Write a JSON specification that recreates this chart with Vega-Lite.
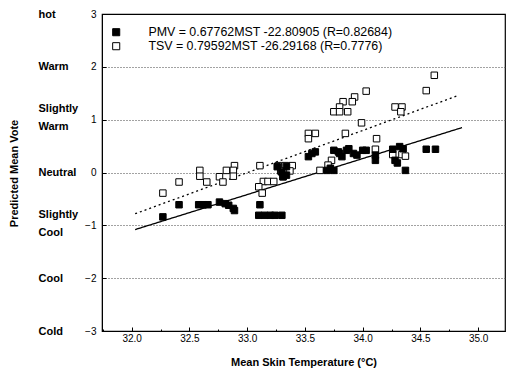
{
  "$schema": "https://vega.github.io/schema/vega-lite/v6.json",
  "autosize": {"type": "none"},
  "padding": {"left": 102, "top": 14, "right": 2, "bottom": 46},
  "width": 403,
  "height": 317,
  "background": "white",
  "config": {
    "font": "Liberation Sans",
    "view": {"stroke": "black", "strokeWidth": 1.2},
    "axis": {"domainColor": "black", "tickColor": "black", "labelColor": "black", "titleColor": "black"}
  },
  "datasets": {
    "pts": [
      {"mst": 34.62, "vote": 1.84, "series": "TSV = 0.79592MST -26.29168 (R=0.7776)"},
      {"mst": 34.55, "vote": 1.55, "series": "TSV = 0.79592MST -26.29168 (R=0.7776)"},
      {"mst": 34.03, "vote": 1.54, "series": "TSV = 0.79592MST -26.29168 (R=0.7776)"},
      {"mst": 33.93, "vote": 1.43, "series": "TSV = 0.79592MST -26.29168 (R=0.7776)"},
      {"mst": 33.91, "vote": 1.34, "series": "TSV = 0.79592MST -26.29168 (R=0.7776)"},
      {"mst": 33.83, "vote": 1.34, "series": "TSV = 0.79592MST -26.29168 (R=0.7776)"},
      {"mst": 33.80, "vote": 1.24, "series": "TSV = 0.79592MST -26.29168 (R=0.7776)"},
      {"mst": 33.75, "vote": 1.15, "series": "TSV = 0.79592MST -26.29168 (R=0.7776)"},
      {"mst": 33.80, "vote": 1.15, "series": "TSV = 0.79592MST -26.29168 (R=0.7776)"},
      {"mst": 33.87, "vote": 1.15, "series": "TSV = 0.79592MST -26.29168 (R=0.7776)"},
      {"mst": 34.28, "vote": 1.24, "series": "TSV = 0.79592MST -26.29168 (R=0.7776)"},
      {"mst": 34.34, "vote": 1.24, "series": "TSV = 0.79592MST -26.29168 (R=0.7776)"},
      {"mst": 34.33, "vote": 1.15, "series": "TSV = 0.79592MST -26.29168 (R=0.7776)"},
      {"mst": 33.99, "vote": 0.94, "series": "TSV = 0.79592MST -26.29168 (R=0.7776)"},
      {"mst": 33.85, "vote": 0.74, "series": "TSV = 0.79592MST -26.29168 (R=0.7776)"},
      {"mst": 34.12, "vote": 0.64, "series": "TSV = 0.79592MST -26.29168 (R=0.7776)"},
      {"mst": 33.53, "vote": 0.74, "series": "TSV = 0.79592MST -26.29168 (R=0.7776)"},
      {"mst": 33.59, "vote": 0.74, "series": "TSV = 0.79592MST -26.29168 (R=0.7776)"},
      {"mst": 33.53, "vote": 0.64, "series": "TSV = 0.79592MST -26.29168 (R=0.7776)"},
      {"mst": 34.11, "vote": 0.44, "series": "TSV = 0.79592MST -26.29168 (R=0.7776)"},
      {"mst": 34.26, "vote": 0.34, "series": "TSV = 0.79592MST -26.29168 (R=0.7776)"},
      {"mst": 34.34, "vote": 0.34, "series": "TSV = 0.79592MST -26.29168 (R=0.7776)"},
      {"mst": 34.37, "vote": 0.31, "series": "TSV = 0.79592MST -26.29168 (R=0.7776)"},
      {"mst": 33.73, "vote": 0.23, "series": "TSV = 0.79592MST -26.29168 (R=0.7776)"},
      {"mst": 33.70, "vote": 0.14, "series": "TSV = 0.79592MST -26.29168 (R=0.7776)"},
      {"mst": 33.63, "vote": 0.04, "series": "TSV = 0.79592MST -26.29168 (R=0.7776)"},
      {"mst": 33.11, "vote": 0.13, "series": "TSV = 0.79592MST -26.29168 (R=0.7776)"},
      {"mst": 33.27, "vote": 0.13, "series": "TSV = 0.79592MST -26.29168 (R=0.7776)"},
      {"mst": 33.33, "vote": 0.13, "series": "TSV = 0.79592MST -26.29168 (R=0.7776)"},
      {"mst": 33.39, "vote": 0.13, "series": "TSV = 0.79592MST -26.29168 (R=0.7776)"},
      {"mst": 33.29, "vote": 0.03, "series": "TSV = 0.79592MST -26.29168 (R=0.7776)"},
      {"mst": 33.37, "vote": 0.03, "series": "TSV = 0.79592MST -26.29168 (R=0.7776)"},
      {"mst": 33.31, "vote": -0.08, "series": "TSV = 0.79592MST -26.29168 (R=0.7776)"},
      {"mst": 32.89, "vote": 0.13, "series": "TSV = 0.79592MST -26.29168 (R=0.7776)"},
      {"mst": 32.82, "vote": 0.04, "series": "TSV = 0.79592MST -26.29168 (R=0.7776)"},
      {"mst": 32.88, "vote": 0.04, "series": "TSV = 0.79592MST -26.29168 (R=0.7776)"},
      {"mst": 32.88, "vote": -0.07, "series": "TSV = 0.79592MST -26.29168 (R=0.7776)"},
      {"mst": 32.76, "vote": -0.08, "series": "TSV = 0.79592MST -26.29168 (R=0.7776)"},
      {"mst": 32.79, "vote": -0.18, "series": "TSV = 0.79592MST -26.29168 (R=0.7776)"},
      {"mst": 32.59, "vote": 0.04, "series": "TSV = 0.79592MST -26.29168 (R=0.7776)"},
      {"mst": 32.59, "vote": -0.07, "series": "TSV = 0.79592MST -26.29168 (R=0.7776)"},
      {"mst": 32.65, "vote": -0.18, "series": "TSV = 0.79592MST -26.29168 (R=0.7776)"},
      {"mst": 32.41, "vote": -0.18, "series": "TSV = 0.79592MST -26.29168 (R=0.7776)"},
      {"mst": 32.27, "vote": -0.39, "series": "TSV = 0.79592MST -26.29168 (R=0.7776)"},
      {"mst": 33.14, "vote": -0.17, "series": "TSV = 0.79592MST -26.29168 (R=0.7776)"},
      {"mst": 33.18, "vote": -0.17, "series": "TSV = 0.79592MST -26.29168 (R=0.7776)"},
      {"mst": 33.23, "vote": -0.17, "series": "TSV = 0.79592MST -26.29168 (R=0.7776)"},
      {"mst": 33.10, "vote": -0.27, "series": "TSV = 0.79592MST -26.29168 (R=0.7776)"},
      {"mst": 33.13, "vote": -0.39, "series": "TSV = 0.79592MST -26.29168 (R=0.7776)"},
      {"mst": 34.55, "vote": 0.44, "series": "PMV = 0.67762MST -22.80905 (R=0.82684)"},
      {"mst": 34.63, "vote": 0.44, "series": "PMV = 0.67762MST -22.80905 (R=0.82684)"},
      {"mst": 34.37, "vote": 0.04, "series": "PMV = 0.67762MST -22.80905 (R=0.82684)"},
      {"mst": 34.26, "vote": 0.44, "series": "PMV = 0.67762MST -22.80905 (R=0.82684)"},
      {"mst": 34.32, "vote": 0.49, "series": "PMV = 0.67762MST -22.80905 (R=0.82684)"},
      {"mst": 34.35, "vote": 0.45, "series": "PMV = 0.67762MST -22.80905 (R=0.82684)"},
      {"mst": 34.28, "vote": 0.23, "series": "PMV = 0.67762MST -22.80905 (R=0.82684)"},
      {"mst": 34.30, "vote": 0.18, "series": "PMV = 0.67762MST -22.80905 (R=0.82684)"},
      {"mst": 34.11, "vote": 0.33, "series": "PMV = 0.67762MST -22.80905 (R=0.82684)"},
      {"mst": 34.11, "vote": 0.23, "series": "PMV = 0.67762MST -22.80905 (R=0.82684)"},
      {"mst": 34.00, "vote": 0.42, "series": "PMV = 0.67762MST -22.80905 (R=0.82684)"},
      {"mst": 34.03, "vote": 0.42, "series": "PMV = 0.67762MST -22.80905 (R=0.82684)"},
      {"mst": 33.92, "vote": 0.36, "series": "PMV = 0.67762MST -22.80905 (R=0.82684)"},
      {"mst": 33.95, "vote": 0.33, "series": "PMV = 0.67762MST -22.80905 (R=0.82684)"},
      {"mst": 33.86, "vote": 0.42, "series": "PMV = 0.67762MST -22.80905 (R=0.82684)"},
      {"mst": 33.88, "vote": 0.45, "series": "PMV = 0.67762MST -22.80905 (R=0.82684)"},
      {"mst": 33.80, "vote": 0.36, "series": "PMV = 0.67762MST -22.80905 (R=0.82684)"},
      {"mst": 33.82, "vote": 0.30, "series": "PMV = 0.67762MST -22.80905 (R=0.82684)"},
      {"mst": 33.75, "vote": 0.42, "series": "PMV = 0.67762MST -22.80905 (R=0.82684)"},
      {"mst": 33.79, "vote": 0.39, "series": "PMV = 0.67762MST -22.80905 (R=0.82684)"},
      {"mst": 33.53, "vote": 0.30, "series": "PMV = 0.67762MST -22.80905 (R=0.82684)"},
      {"mst": 33.59, "vote": 0.39, "series": "PMV = 0.67762MST -22.80905 (R=0.82684)"},
      {"mst": 33.56, "vote": 0.36, "series": "PMV = 0.67762MST -22.80905 (R=0.82684)"},
      {"mst": 33.69, "vote": 0.04, "series": "PMV = 0.67762MST -22.80905 (R=0.82684)"},
      {"mst": 33.75, "vote": 0.04, "series": "PMV = 0.67762MST -22.80905 (R=0.82684)"},
      {"mst": 33.72, "vote": 0.08, "series": "PMV = 0.67762MST -22.80905 (R=0.82684)"},
      {"mst": 33.26, "vote": 0.11, "series": "PMV = 0.67762MST -22.80905 (R=0.82684)"},
      {"mst": 33.34, "vote": 0.11, "series": "PMV = 0.67762MST -22.80905 (R=0.82684)"},
      {"mst": 33.30, "vote": 0.01, "series": "PMV = 0.67762MST -22.80905 (R=0.82684)"},
      {"mst": 33.34, "vote": -0.05, "series": "PMV = 0.67762MST -22.80905 (R=0.82684)"},
      {"mst": 33.31, "vote": -0.08, "series": "PMV = 0.67762MST -22.80905 (R=0.82684)"},
      {"mst": 32.27, "vote": -0.84, "series": "PMV = 0.67762MST -22.80905 (R=0.82684)"},
      {"mst": 32.41, "vote": -0.61, "series": "PMV = 0.67762MST -22.80905 (R=0.82684)"},
      {"mst": 32.58, "vote": -0.61, "series": "PMV = 0.67762MST -22.80905 (R=0.82684)"},
      {"mst": 32.62, "vote": -0.61, "series": "PMV = 0.67762MST -22.80905 (R=0.82684)"},
      {"mst": 32.66, "vote": -0.61, "series": "PMV = 0.67762MST -22.80905 (R=0.82684)"},
      {"mst": 32.76, "vote": -0.56, "series": "PMV = 0.67762MST -22.80905 (R=0.82684)"},
      {"mst": 32.81, "vote": -0.59, "series": "PMV = 0.67762MST -22.80905 (R=0.82684)"},
      {"mst": 32.84, "vote": -0.62, "series": "PMV = 0.67762MST -22.80905 (R=0.82684)"},
      {"mst": 32.88, "vote": -0.68, "series": "PMV = 0.67762MST -22.80905 (R=0.82684)"},
      {"mst": 32.89, "vote": -0.72, "series": "PMV = 0.67762MST -22.80905 (R=0.82684)"},
      {"mst": 33.11, "vote": -0.61, "series": "PMV = 0.67762MST -22.80905 (R=0.82684)"},
      {"mst": 33.10, "vote": -0.81, "series": "PMV = 0.67762MST -22.80905 (R=0.82684)"},
      {"mst": 33.15, "vote": -0.81, "series": "PMV = 0.67762MST -22.80905 (R=0.82684)"},
      {"mst": 33.20, "vote": -0.81, "series": "PMV = 0.67762MST -22.80905 (R=0.82684)"},
      {"mst": 33.24, "vote": -0.81, "series": "PMV = 0.67762MST -22.80905 (R=0.82684)"},
      {"mst": 33.30, "vote": -0.81, "series": "PMV = 0.67762MST -22.80905 (R=0.82684)"}
    ],
    "fits": [
      {"mst": 32.03, "fit": -1.08, "kind": "PMV"},
      {"mst": 34.86, "fit": 0.85, "kind": "PMV"},
      {"mst": 32.03, "fit": -0.78, "kind": "TSV"},
      {"mst": 34.83, "fit": 1.46, "kind": "TSV"}
    ]
  },
  "layer": [
    {
      "data": {"name": "fits"},
      "mark": {"type": "line", "color": "black", "strokeWidth": 1.3},
      "encoding": {
        "x": {
          "field": "mst", "type": "quantitative",
          "scale": {"domain": [31.743, 35.232], "nice": false, "zero": false},
          "axis": {"orient": "bottom", "values": [31.75, 32.25, 32.75, 33.25, 33.75, 34.25, 34.75], "labels": false, "domain": false, "grid": false, "tickSize": -2, "title": null}
        },
        "y": {
          "field": "fit", "type": "quantitative",
          "scale": {"domain": [-3, 3], "nice": false, "zero": false},
          "axis": {
            "orient": "left", "values": [-3, -2, -1, 0, 1, 2, 3],
            "labelExpr": "datum.value == 3 ? 'hot' : datum.value == 2 ? 'Warm' : datum.value == 1 ? ['Slightly','Warm'] : datum.value == 0 ? 'Neutral' : datum.value == -1 ? ['Slightly','Cool'] : datum.value == -2 ? 'Cool' : 'Cold'",
            "labelAlign": "left", "labelBaseline": "middle", "labelPadding": 64, "labelLineHeight": 18,
            "labelOffset": {"condition": {"test": "abs(datum.value) == 1", "value": -11}, "value": 0},
            "labelFont": "Liberation Sans", "labelFontSize": 11, "labelFontWeight": "bold",
            "ticks": false, "domain": false, "grid": false,
            "title": "Predicted Mean Vote", "titleFontSize": 11, "titleFontWeight": "bold",
            "titleX": -88, "titleY": 159, "titleBaseline": "middle", "titleAngle": -90
          }
        },
        "strokeDash": {"field": "kind", "type": "nominal", "scale": {"domain": ["PMV", "TSV"], "range": [[1, 0], [2, 3]]}, "legend": null}
      }
    },
    {
      "data": {"name": "pts"},
      "mark": {"type": "point", "shape": "square", "filled": true, "size": 42, "stroke": "black", "strokeWidth": 1, "opacity": 1},
      "encoding": {
        "x": {
          "field": "mst", "type": "quantitative",
          "scale": {"domain": [31.743, 35.232], "nice": false, "zero": false},
          "axis": {"orient": "bottom", "values": [32.0, 32.5, 33.0, 33.5, 34.0, 34.5, 35.0], "format": ".1f", "grid": false, "tickSize": -4, "labelPadding": 6, "labelFontSize": 10, "title": "Mean Skin Temperature (°C)", "titleFontSize": 11, "titleFontWeight": "bold", "titlePadding": 13}
        },
        "y": {
          "field": "vote", "type": "quantitative",
          "scale": {"domain": [-3, 3], "nice": false, "zero": false},
          "axis": {"orient": "left", "values": [-3, -2.5, -2, -1.5, -1, -0.5, 0, 0.5, 1, 1.5, 2, 2.5, 3],
            "labelExpr": "datum.value % 1 == 0 ? datum.label : ''",
            "format": "d", "tickSize": -4, "labelPadding": 10, "labelFontSize": 10,
            "grid": true, "gridDash": [1, 2], "gridColor": "#444", "gridWidth": 1,
            "gridOpacity": {"expr": "datum.value % 1 == 0 && abs(datum.value) < 3 ? 1 : 0"},
            "title": null}
        },
        "fill": {
          "field": "series", "type": "nominal",
          "scale": {"domain": ["PMV = 0.67762MST -22.80905 (R=0.82684)", "TSV = 0.79592MST -26.29168 (R=0.7776)"], "range": ["black", "white"]},
          "legend": {"orient": "none", "legendX": 8, "legendY": 12, "title": null, "symbolType": "square", "symbolSize": 50, "symbolStrokeColor": "black", "symbolStrokeWidth": 1, "labelFontSize": 12.4, "labelOffset": 26, "labelLimit": 0, "rowPadding": 1, "padding": 0, "labelFont": "Liberation Sans"}
        }
      }
    }
  ],
  "resolve": {"axis": {"x": "independent", "y": "independent"}}
}
